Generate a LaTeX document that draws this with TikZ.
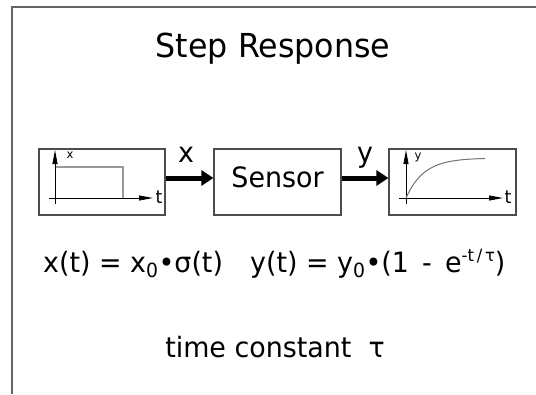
\documentclass[tikz,border=0pt]{standalone}
\usepackage{fontspec}
\setmainfont{DejaVu Sans}[FakeStretch=0.96]
\usetikzlibrary{arrows.meta}
\tikzset{
  frameline/.style={draw=black!60,line width=1.2pt},
  box/.style={draw=black!70,line width=1.2pt,inner sep=0pt},
  bigarrow/.style={line width=5pt,-{Triangle[length=12pt,width=15pt]}},
  axis/.style={line width=0.9pt,-{Triangle[length=14pt,width=5pt]}},
  big/.style={font=\fontsize{28}{30}\selectfont,anchor=base,inner sep=0pt},
  small/.style={font=\fontsize{18}{18}\selectfont,anchor=base,inner sep=0pt},
  tiny/.style={font=\fontsize{12}{12}\selectfont,anchor=base,inner sep=0pt},
}
\newcommand{\supscr}[1]{\raisebox{11pt}{\fontsize{17}{17}\selectfont #1}}
\begin{document}
\begin{tikzpicture}[x=1pt,y=-1pt]
\useasboundingbox (0,0) rectangle (536,394);
\draw[frameline] (12,394) -- (12,7) -- (536,7);

\node[anchor=base,inner sep=0pt,font=\fontsize{33}{36}\selectfont] (title) at (273,57) {Step Response};

\node[box,minimum width=126pt,minimum height=66pt] (inbox) at (102,182) {};
\node[box,minimum width=127pt,minimum height=66pt] (sensor) at (277.5,182) {};
\node[big] (sensortext) at (277.5,187) {Sensor};
\node[box,minimum width=127pt,minimum height=66pt] (outbox) at (452.5,182) {};

\draw[bigarrow] ([yshift=4pt]inbox.east) -- ([yshift=4pt]sensor.west);
\draw[bigarrow] ([yshift=4pt]sensor.east) -- ([yshift=4pt]outbox.west);
\node[big] (xlab) at (186,162) {x};
\node[big] (ylab) at (365,162) {y};

% input plot
\draw[axis] (55,204) -- (55,150);
\draw[axis] (49,198) -- (153,198);
\draw[black!40,line width=1.2pt] (56,167) -- (123,167) -- (123,198);
\node[tiny] (xax) at (70,158) {x};
\node[small] (tin) at (159,203) {t};

% output plot
\draw[axis] (406,204) -- (406,150);
\draw[axis] (399,198) -- (503,198);
\draw[black!55,line width=1pt] plot[domain=0:79,samples=50] ({406+\x},{198-40*(1-exp(-\x/18))});
\node[tiny] (yax) at (418,159) {y};
\node[small] (tout) at (508,203) {t};

\node[big,anchor=base west] (eqx) at (43,272) {x(t) = x\textsubscript{0}•σ(t)};
\node[big,anchor=base west] (eqy) at (250,272) {y(t) = y\textsubscript{0}•(1 \,-\, e\supscr{-t\,/\,τ})};

\node[big] (tc) at (275,357) {time constant \ τ};
\end{tikzpicture}
\end{document}
